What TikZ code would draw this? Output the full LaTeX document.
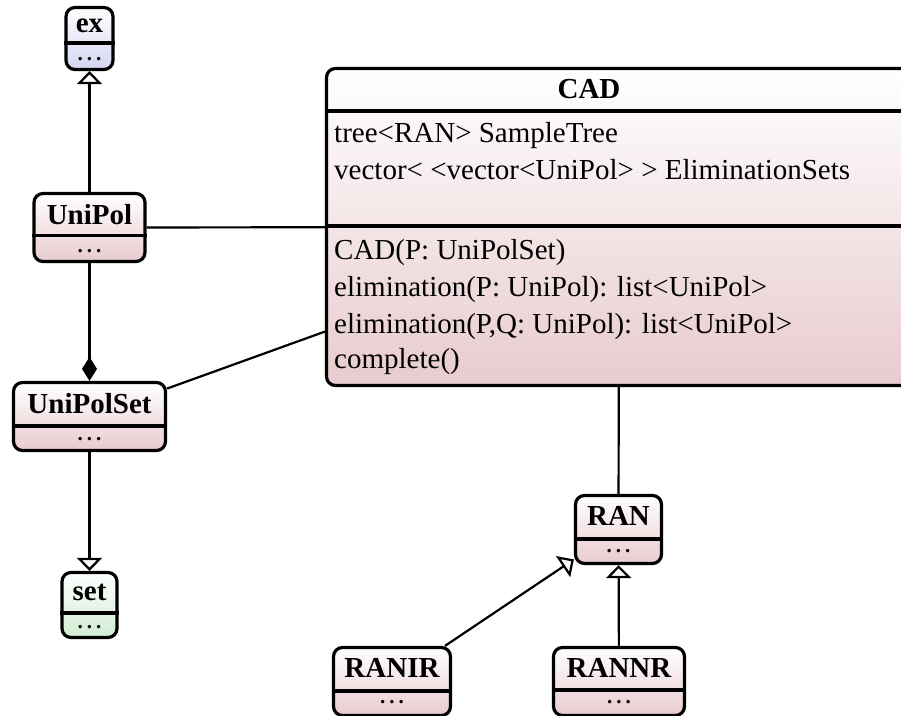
\documentclass[tikz,border=0pt]{standalone}
\usepackage{fontspec}
\setmainfont{Liberation Serif}
\usetikzlibrary{arrows.meta}

\definecolor{pinkB}{RGB}{232,203,206}
\definecolor{blueB}{RGB}{212,214,240}
\definecolor{greenB}{RGB}{208,236,210}

\newcommand\umlfont{\fontsize{29pt}{34pt}\selectfont}
\newcommand\umldots{.\kern4pt.\kern4pt.}

\tikzset{
  classbox/.style={draw=black, line width=3.2pt, rounded corners=9pt,
    top color=white, bottom color=#1, inner sep=0pt},
  classbox/.default=pinkB,
  divider/.style={line width=3.2pt},
  title/.style={anchor=base, font=\umlfont\bfseries, inner sep=0pt},
  dots/.style={anchor=base, font=\fontsize{21pt}{24pt}\selectfont\bfseries, inner sep=0pt},
  member/.style={anchor=base west, font=\umlfont, inner sep=0pt},
  edge/.style={line width=2.2pt},
  inherit/.style={edge, -{Triangle[open, length=13pt, width=25pt]}},
  compose/.style={edge, {Diamond[length=24pt, width=15pt]}-},
}

\begin{document}
\begin{tikzpicture}[x=1pt, y=-1pt]
\useasboundingbox (0,0) rectangle (901,715);
\clip (0,0) rectangle (901,715);

% class outlines
\node[classbox=blueB,  minimum width=47pt,  minimum height=62pt]  (ex)        at (89.5,38.5)  {};
\node[classbox,        minimum width=111pt, minimum height=68pt]  (unipol)    at (89.5,227.5) {};
\node[classbox,        minimum width=152pt, minimum height=68pt]  (unipolset) at (89.5,416.5) {};
\node[classbox=greenB, minimum width=55pt,  minimum height=65pt]  (set)       at (89.5,605)   {};
\node[classbox,        minimum width=585pt, minimum height=317pt] (cad)       at (619,227)    {};
\node[classbox,        minimum width=86pt,  minimum height=68pt]  (ran)       at (618.5,529.5){};
\node[classbox,        minimum width=117pt, minimum height=68pt]  (ranir)     at (392,681.5)  {};
\node[classbox,        minimum width=131pt, minimum height=68pt]  (rannr)     at (619,681.5)  {};

% compartment dividers
\draw[divider] (ex.west |- 0,43)          -- (ex.east |- 0,43);
\draw[divider] (unipol.west |- 0,235.5)   -- (unipol.east |- 0,235.5);
\draw[divider] (unipolset.west |- 0,426)  -- (unipolset.east |- 0,426);
\draw[divider] (set.west |- 0,613)        -- (set.east |- 0,613);
\draw[divider] (cad.west |- 0,111)        -- (cad.east |- 0,111);
\draw[divider] (cad.west |- 0,226)        -- (cad.east |- 0,226);
\draw[divider] (ran.west |- 0,539)        -- (ran.east |- 0,539);
\draw[divider] (ranir.west |- 0,691)      -- (ranir.east |- 0,691);
\draw[divider] (rannr.west |- 0,690)      -- (rannr.east |- 0,690);

% class names
\node[title] (exT)        at (89.5,32)  {ex};
\node[title] (unipolT)    at (89.5,224) {UniPol};
\node[title] (unipolsetT) at (89.5,413) {UniPolSet};
\node[title] (setT)       at (89.5,600) {set};
\node[title] (cadT)       at (589,98)   {CAD};
\node[title] (ranT)       at (618.5,525){RAN};
\node[title] (ranirT)     at (392,677)  {RANIR};
\node[title] (rannrT)     at (619,677)  {RANNR};

% empty compartments
\node[dots] (exD)        at (89.5,60)  {\umldots};
\node[dots] (unipolD)    at (89.5,252) {\umldots};
\node[dots] (unipolsetD) at (89.5,440) {\umldots};
\node[dots] (setD)       at (89.5,628) {\umldots};
\node[dots] (ranD)       at (618.5,552){\umldots};
\node[dots] (ranirD)     at (392,703)  {\umldots};
\node[dots] (rannrD)     at (619,703)  {\umldots};

% CAD attributes and operations
\node[member] (a1) at (334,142) {tree<RAN> SampleTree};
\node[member] (a2) at (334,179) {vector< <vector<UniPol> > EliminationSets};
\node[member] (m1) at (334,259) {CAD(P: UniPolSet)};
\node[member] (m2) at (334,296) {elimination(P: UniPol): list<UniPol>};
\node[member] (m3) at (334,333) {elimination(P,Q: UniPol): list<UniPol>};
\node[member] (m4) at (334,368) {complete()};

% relations
\draw[inherit] (unipol) -- (ex);
\draw[compose] (unipolset) -- (unipol);
\draw[edge]    (unipol) -- (cad);
\draw[edge]    (unipolset) -- (cad);
\draw[inherit] (unipolset) -- (set);
\draw[edge]    (cad) -- (ran);
\draw[inherit] (ranir) -- (ran);
\draw[inherit] (rannr) -- (ran);
\end{tikzpicture}
\end{document}
